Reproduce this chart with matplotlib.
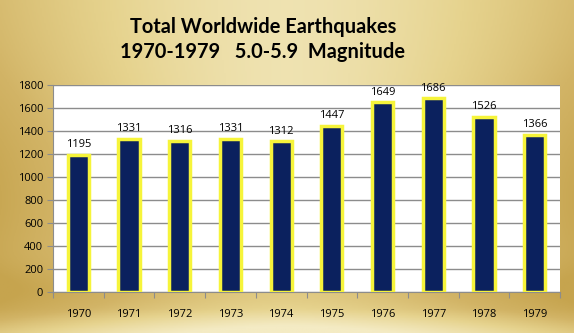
import numpy as np
import matplotlib
matplotlib.use("Agg")
import matplotlib.pyplot as plt
from matplotlib.colors import LinearSegmentedColormap

years = ["1970", "1971", "1972", "1973", "1974", "1975", "1976", "1977", "1978", "1979"]
counts = [1195, 1331, 1316, 1331, 1312, 1447, 1649, 1686, 1526, 1366]
title_lines = ["Total Worldwide Earthquakes", "1970-1979   5.0-5.9  Magnitude"]

plt.rcParams['font.family'] = ['Open Sans', 'DejaVu Sans']

fig = plt.figure(figsize=(5.74, 3.33), dpi=100)

# gradient background
bg = fig.add_axes([0, 0, 1, 1], zorder=-10)
h, w = 200, 300
yy, xx = np.mgrid[0:1:h*1j, 0:1:w*1j]
dx = np.abs(xx - 0.5) * 2
val = (0.12 + 0.8 * dx**1.6 * (0.55 + 0.45 * np.exp(-((yy - 0.6) / 0.35)**2))
       + 0.3 * np.exp(-((yy - 0.88) / 0.08)**2) - 0.25 * np.clip((yy - 0.93) / 0.07, 0, 1))
val = np.clip(val, 0, 1)
cmap = LinearSegmentedColormap.from_list("gold", ["#f4ebc4", "#e6d38e", "#d2b466", "#c6a44e"])
bg.imshow(val, cmap=cmap, aspect='auto', extent=[0, 1, 0, 1], origin='upper', vmin=0, vmax=1)
bg.axis('off')

ax = fig.add_axes([53/574, 41/333, 507/574, 207/333])
ax.set_facecolor('white')
x = np.arange(len(years))
bars = ax.bar(x, counts, width=0.42, color='#0b215e', edgecolor='#f6f43a', linewidth=2.5, zorder=3)
for xi, c in zip(x, counts):
    ax.text(xi, c + 40, str(c), ha='center', va='bottom', fontsize=8, color='black')

ax.set_xlim(-0.5, len(years) - 0.5)
ax.set_ylim(0, 1800)
ax.set_yticks(np.arange(0, 1801, 200))
ax.yaxis.grid(True, color='#8c8c8c', linewidth=1, zorder=0)
ax.set_axisbelow(True)
ax.set_xticks(np.arange(-0.5, len(years), 1))
ax.set_xticklabels([])
ax.set_xticks(x, minor=True)
ax.set_xticklabels(years, minor=True, fontsize=8)
ax.tick_params(axis='x', which='minor', length=0, pad=12)
ax.tick_params(axis='x', which='major', length=4, color='#8c8c8c')
ax.tick_params(axis='y', length=4, color='#8c8c8c', labelsize=8, pad=3)
for s in ['top', 'right']:
    ax.spines[s].set_visible(False)
ax.spines['left'].set_color('#8c8c8c')
ax.spines['bottom'].set_color('#8c8c8c')

for line, yb in zip(title_lines, [1 - 33/333, 1 - 58/333]):
    fig.text(263/574, yb, line, ha='center', va='baseline', fontsize=14.4, fontweight='bold',
             family=['Lato', 'DejaVu Sans'])

fig.savefig("out.png", dpi=100)
